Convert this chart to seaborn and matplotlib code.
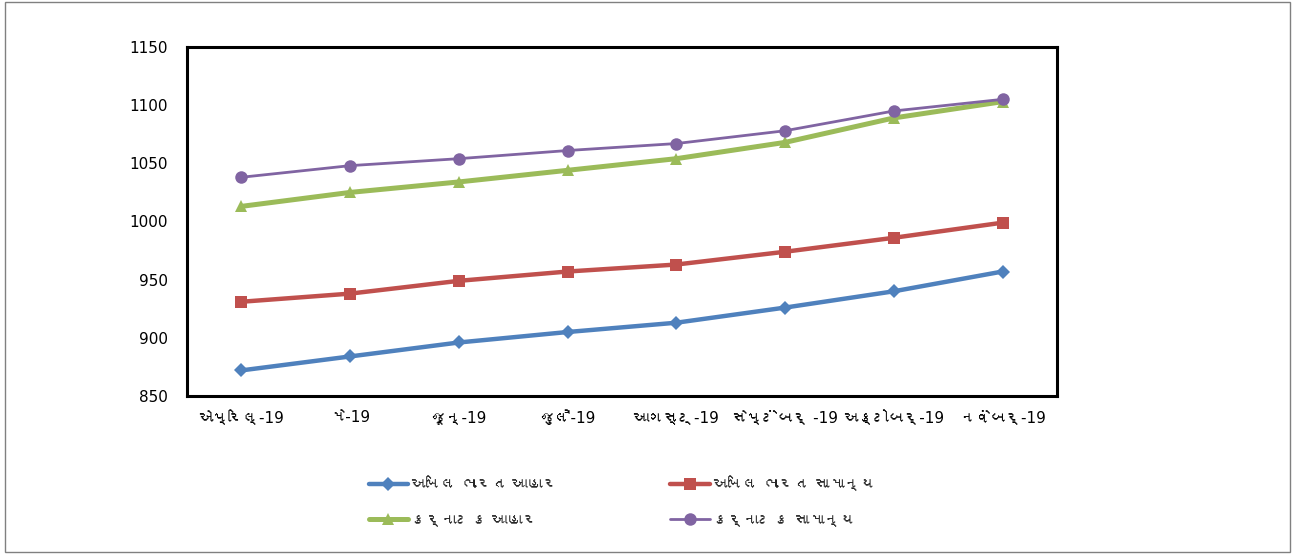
import pandas as pd
import seaborn as sns
import matplotlib.pyplot as plt
from matplotlib import font_manager
from matplotlib.patches import Rectangle

# ------------------ DATA ------------------
months = ['એપ્રિલ્-19', 'મે-19', 'જૂન્-19', 'જુલૈ-19', 'આગસ્ટ્-19',
          'સેપ્ટેંબર્ -19', 'અક્ટોબર્-19', 'નવેંબર્-19']
all_india_food = [872, 884, 896, 905, 913, 926, 940, 957]
all_india_general = [931, 938, 949, 957, 963, 974, 986, 999]
karnataka_food = [1013, 1025, 1034, 1044, 1054, 1068, 1089, 1103]
karnataka_general = [1038, 1048, 1054, 1061, 1067, 1078, 1095, 1105]
series_names = ['અખિલ ભારત આહાર', 'અખિલ ભારત સામાન્ય',
                'કર્નાટક આહાર', 'કર્નાટક સામાન્ય']
y_ticks = [850, 900, 950, 1000, 1050, 1100, 1150]


# ------------------ FONT (look for a font with Gujarati glyphs) ------------------
def find_font(ch):
    try:
        from fontTools.ttLib import TTFont
    except Exception:
        return None
    for f in font_manager.fontManager.ttflist:
        try:
            tt = TTFont(f.fname, fontNumber=0, lazy=True)
            cmap = tt.getBestCmap()
            if cmap and ord(ch) in cmap:
                return f.name
        except Exception:
            pass
    return None


sns.set_style('white')
guj = find_font('ક')
# latin digits from DejaVu, Gujarati letters from whatever font has them
plt.rcParams['font.family'] = ['DejaVu Sans'] + ([guj] if guj else [])

# ------------------ PLOT ------------------
rows = []
for name, vals in zip(series_names, [all_india_food, all_india_general,
                                     karnataka_food, karnataka_general]):
    for i, v in enumerate(vals):
        rows.append({'idx': i, 'value': v, 'series': name})
df = pd.DataFrame(rows)

colors = ['#4F81BD', '#C0504D', '#9BBB59', '#8064A2']
markers = ['D', 's', '^', 'o']
widths = [3.2, 3.2, 3.6, 2.0]
msizes = [7, 9, 9, 9]

fig = plt.figure(figsize=(12.95, 5.54), dpi=100)
ax = fig.add_axes([0.1444, 0.2852, 0.6718, 0.630])

for name, c, m, lw, ms in zip(series_names, colors, markers, widths, msizes):
    sns.lineplot(data=df[df['series'] == name], x='idx', y='value', color=c,
                 marker=m, markersize=ms, markeredgewidth=0, linewidth=lw,
                 label=name, ax=ax)

ax.set_xlim(-0.5, 7.5)
ax.set_ylim(850, 1150)
ax.set_yticks(y_ticks)
ax.set_xticks(range(len(months)))
ax.set_xticklabels(months)
ax.set_xlabel('')
ax.set_ylabel('')
ax.tick_params(axis='both', length=0, labelsize=11, colors='black')
ax.tick_params(axis='x', pad=10)
ax.tick_params(axis='y', pad=14)
for s in ax.spines.values():
    s.set_visible(True)
    s.set_color('black')
    s.set_linewidth(2.2)

handles, labels = ax.get_legend_handles_labels()
ax.get_legend().remove()
order = [0, 2, 1, 3]
fig.legend([handles[i] for i in order], [labels[i] for i in order],
           ncol=2, frameon=False, loc='upper left',
           bbox_to_anchor=(0.274, 0.165), fontsize=11, handlelength=2.6,
           handletextpad=0.2, columnspacing=7.3, labelspacing=1.35)

# outer chart border
fig.patches.append(Rectangle((0.004, 0.004), 0.992, 0.992, transform=fig.transFigure,
                             fill=False, edgecolor='#808080', linewidth=1.0))

fig.savefig('out.png', dpi=100)
